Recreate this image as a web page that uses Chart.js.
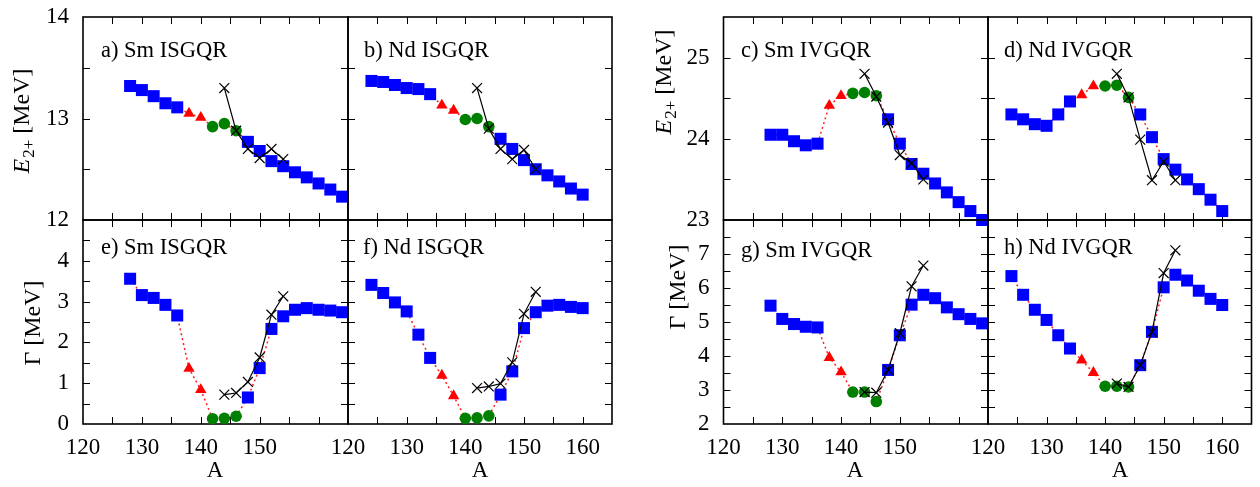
<!DOCTYPE html>
<html><head><meta charset="utf-8">
<script src="https://cdn.jsdelivr.net/npm/chart.js@4.4.1/dist/chart.umd.min.js"></script>
<style>
html,body{margin:0;padding:0;background:#fff;}
#wrap{position:relative;width:1260px;height:487px;overflow:hidden;background:#fff;}
#wrap canvas{position:absolute;left:0;top:0;}
.lbl{position:absolute;font-family:"Liberation Serif",serif;font-size:22.5px;line-height:1;white-space:nowrap;color:#000;}
.ttl{position:absolute;font-family:"Liberation Serif",serif;font-size:24px;line-height:1;white-space:nowrap;color:#000;transform:translate(-50%,-50%) rotate(-90deg);}
.ttlx{position:absolute;font-family:"Liberation Serif",serif;font-size:23px;line-height:1;white-space:nowrap;color:#000;transform:translate(-50%,-50%);}
.ttl sub{font-size:17px;vertical-align:-5px;line-height:0;margin-left:1px;}
</style></head><body><div id="wrap"></div>
<script>
// ---------- data ----------
const smA = [128,130,132,134,136,138,140,142,144,146,148,150,152,154,156,158,160,162,164];
const smShape = ['s','s','s','s','s','t','t','c','c','c','s','s','s','s','s','s','s','s','s'];
const ndA = [124,126,128,130,132,134,136,138,140,142,144,146,148,150,152,154,156,158,160];
const ndShape = ['s','s','s','s','s','s','t','t','c','c','c','s','s','s','s','s','s','s','s'];

const smIS_E = [13.32,13.28,13.22,13.15,13.11,13.05,13.01,12.92,12.95,12.88,12.77,12.68,12.58,12.53,12.47,12.42,12.36,12.30,12.23];
const ndIS_E = [13.37,13.36,13.33,13.30,13.29,13.24,13.13,13.08,12.99,13.00,12.92,12.80,12.70,12.59,12.50,12.44,12.38,12.31,12.25];
const smIV_E = [24.05,24.05,23.97,23.92,23.94,24.41,24.53,24.56,24.57,24.53,24.24,23.94,23.69,23.57,23.45,23.34,23.22,23.11,23.00];
const ndIV_E = [24.30,24.24,24.18,24.16,24.30,24.46,24.54,24.65,24.65,24.66,24.51,24.30,24.02,23.75,23.62,23.50,23.38,23.25,23.11];
const smIS_W = [3.56,3.16,3.09,2.92,2.66,1.36,0.84,0.13,0.14,0.19,0.65,1.37,2.33,2.64,2.80,2.84,2.80,2.78,2.74];
const ndIS_W = [3.41,3.21,2.98,2.76,2.19,1.62,1.19,0.69,0.14,0.15,0.20,0.72,1.29,2.35,2.74,2.90,2.92,2.87,2.84];
const smIV_W = [5.48,5.09,4.94,4.86,4.84,3.95,3.53,2.94,2.94,2.66,3.59,4.61,5.51,5.80,5.70,5.43,5.23,5.09,4.96];
const ndIV_W = [6.35,5.80,5.36,5.06,4.61,4.22,3.88,3.51,3.11,3.11,3.09,3.73,4.71,6.02,6.39,6.22,5.92,5.68,5.50];

const smExpA = [144,146,148,150,152,154];
const ndExpA = [142,144,146,148,150,152];
const smIS_Eexp = [13.30,12.88,12.70,12.61,12.70,12.60];
const ndIS_Eexp = [13.30,12.90,12.70,12.60,12.69,12.50];
const smIV_Eexp = [24.80,24.52,24.20,23.80,23.70,23.50];
const ndIV_Eexp = [24.80,24.51,23.99,23.49,23.72,23.49];
const smIS_Wexp = [0.72,0.76,1.03,1.63,2.68,3.13];
const ndIS_Wexp = [0.88,0.92,0.99,1.51,2.70,3.24];
const smIV_Wexp = [2.94,2.92,3.59,4.67,6.05,6.66];
const ndIV_Wexp = [3.19,3.09,3.73,4.71,6.44,7.11];

const xTicksSm = [120,130,140,150];
const xTicksNd = [120,130,140,150,160];
const yTicksIS_E = [12,13,14];
const yTicksIS_W = [0,1,2,3,4];
const yTicksIV_E = [23,24,25];
const yTicksIV_W = [2,3,4,5,6,7];

const panelLabels = ['a) Sm ISGQR','b) Nd ISGQR','c) Sm IVGQR','d) Nd IVGQR','e) Sm ISGQR','f) Nd ISGQR','g) Sm IVGQR','h) Nd IVGQR'];

// ---------- styling ----------
const shapeStyle = {s:'rect', t:'triangle', c:'circle'};
const shapeRadius = {s:8.5, t:6.6, c:5.8};
const shapeColor = {s:'#0000ff', t:'#ff0000', c:'#008000'};
const FONT = 'Liberation Serif';

const frameTicks = {
  id:'frameTicks',
  beforeDatasetsDraw(chart, args, o){
    const ctx = chart.ctx, a = chart.chartArea, x = chart.scales.x, y = chart.scales.y;
    ctx.save();
    ctx.strokeStyle = '#000';
    ctx.lineWidth = 1;
    const L = 7;
    ctx.beginPath();
    for (let v = x.min + o.xStep; v < x.max - 1e-9; v += o.xStep){
      const px = Math.round(x.getPixelForValue(v)) + 0.5;
      ctx.moveTo(px, a.bottom); ctx.lineTo(px, a.bottom - L);
      ctx.moveTo(px, a.top); ctx.lineTo(px, a.top + L);
    }
    for (let v = y.min + o.yStep; v < y.max - 1e-9; v += o.yStep){
      const py = Math.round(y.getPixelForValue(v)) + 0.5;
      ctx.moveTo(a.left, py); ctx.lineTo(a.left + L, py);
      ctx.moveTo(a.right, py); ctx.lineTo(a.right - L, py);
    }
    ctx.stroke();
    ctx.lineWidth = 1.6;
    ctx.strokeRect(a.left, a.top, a.right - a.left, a.bottom - a.top);
    ctx.restore();
  }
};

const wrap = document.getElementById('wrap');

function makePanel(p){
  const c = document.createElement('canvas');
  c.width = 1260; c.height = 487;
  c.style.width = '1260px'; c.style.height = '487px';
  wrap.appendChild(c);
  const YW = p.yTicks ? 70 : 0;      // y-axis box width
  const XH = p.xTicks ? 50 : 0;      // x-axis box height
  const theory = {
    data: p.A.map((x,i)=>({x:x, y:p.vals[i]})),
    showLine:true, borderColor:'#ff2020', borderWidth:1.5, borderDash:[2,3],
    pointStyle: p.shape.map(s=>shapeStyle[s]),
    pointRadius: p.shape.map(s=>shapeRadius[s]),
    pointBackgroundColor: p.shape.map(s=>shapeColor[s]),
    pointBorderColor: p.shape.map(s=>shapeColor[s]),
    pointBorderWidth: 0,
    clip:false, order:2
  };
  const expt = {
    data: p.expA.map((x,i)=>({x:x, y:p.expVals[i]})),
    showLine:true, borderColor:'#000', borderWidth:1.2,
    pointStyle:'crossRot', pointRadius:7, pointBorderColor:'#000', pointBorderWidth:1.2,
    pointBackgroundColor:'#000',
    clip:false, order:0
  };
  new Chart(c, {
    type:'scatter',
    data:{datasets:[expt, theory]},
    options:{
      responsive:false, animation:false, devicePixelRatio:1, events:[],
      layout:{padding:{left:p.L - YW, top:p.T, right:1260 - p.R, bottom:487 - p.B - XH}},
      plugins:{legend:{display:false}, tooltip:{enabled:false}, title:{display:false},
               frameTicks:{xStep:5, yStep:0.5}},
      scales:{
        x:{type:'linear', min:120, max:165,
           grid:{display:false, drawTicks:false}, border:{display:false},
           ticks:{display:!!p.xTicks, padding:10, color:'#000', maxRotation:0, autoSkip:false,
                  font:{family:FONT, size:23}},
           afterBuildTicks: s => { s.ticks = (p.xTicks || [120]).map(v=>({value:v})); },
           afterFit: s => { s.height = XH; s.paddingLeft = 0; s.paddingRight = 0; s.paddingTop = 0; s.paddingBottom = 0; }},
        y:{type:'linear', min:p.ymin, max:p.ymax,
           grid:{display:false, drawTicks:false}, border:{display:false},
           ticks:{display:!!p.yTicks, padding:14, color:'#000', autoSkip:false,
                  font:{family:FONT, size:23}},
           afterBuildTicks: s => { s.ticks = (p.yTicks || [p.ymin]).map(v=>({value:v})); },
           afterFit: s => { s.width = YW; s.paddingTop = 0; s.paddingBottom = 0; s.paddingLeft = 0; s.paddingRight = 0; }}
      }
    },
    plugins:[frameTicks]
  });
}

const TOP = {T:17, B:220}, BOT = {T:220, B:424};
const panels = [
  {L:83,  R:348,  ...TOP, A:smA, shape:smShape, vals:smIS_E, expA:smExpA, expVals:smIS_Eexp, ymin:12, ymax:14, yTicks:yTicksIS_E},
  {L:348, R:612,  ...TOP, A:ndA, shape:ndShape, vals:ndIS_E, expA:ndExpA, expVals:ndIS_Eexp, ymin:12, ymax:14},
  {L:723.5, R:988, ...TOP, A:smA, shape:smShape, vals:smIV_E, expA:smExpA, expVals:smIV_Eexp, ymin:23, ymax:25.5, yTicks:yTicksIV_E},
  {L:988, R:1252, ...TOP, A:ndA, shape:ndShape, vals:ndIV_E, expA:ndExpA, expVals:ndIV_Eexp, ymin:23, ymax:25.5},
  {L:83,  R:348,  ...BOT, A:smA, shape:smShape, vals:smIS_W, expA:smExpA, expVals:smIS_Wexp, ymin:0, ymax:5, yTicks:yTicksIS_W, xTicks:xTicksSm},
  {L:348, R:612,  ...BOT, A:ndA, shape:ndShape, vals:ndIS_W, expA:ndExpA, expVals:ndIS_Wexp, ymin:0, ymax:5, xTicks:xTicksNd},
  {L:723.5, R:988, ...BOT, A:smA, shape:smShape, vals:smIV_W, expA:smExpA, expVals:smIV_Wexp, ymin:2, ymax:8, yTicks:yTicksIV_W, xTicks:xTicksSm},
  {L:988, R:1252, ...BOT, A:ndA, shape:ndShape, vals:ndIV_W, expA:ndExpA, expVals:ndIV_Wexp, ymin:2, ymax:8, xTicks:xTicksNd}
];
panels.forEach(makePanel);

// ---------- text overlays ----------
function addDiv(cls, html, x, y){
  const d = document.createElement('div');
  d.className = cls; d.innerHTML = html;
  d.style.left = x + 'px'; d.style.top = y + 'px';
  wrap.appendChild(d);
}
const labelPos = [[101,39],[364,39],[741,39],[1004,39],[101,236],[363,236],[741,239],[1004,236]];
panelLabels.forEach((t,i)=>addDiv('lbl', t, labelPos[i][0], labelPos[i][1]));
addDiv('ttl', '<i>E</i><sub>2+</sub> [MeV]', 21, 121);
addDiv('ttl', '&Gamma; [MeV]', 32, 323);
addDiv('ttl', '<i>E</i><sub>2+</sub> [MeV]', 663, 82);
addDiv('ttl', '&Gamma; [MeV]', 677, 287);
addDiv('ttlx', 'A', 215, 469);
addDiv('ttlx', 'A', 480, 469);
addDiv('ttlx', 'A', 855, 469);
addDiv('ttlx', 'A', 1120, 469);
</script></body></html>
